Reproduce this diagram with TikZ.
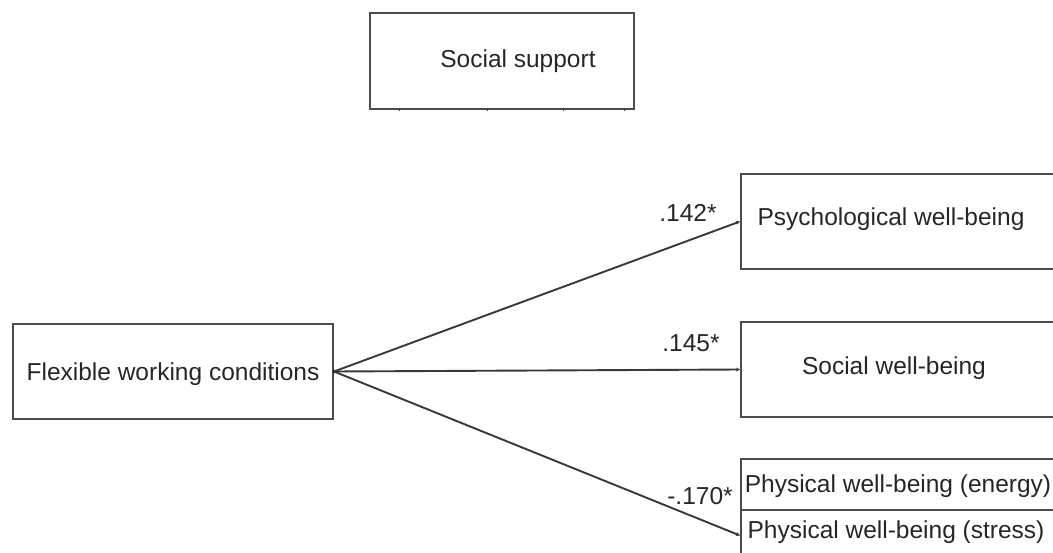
\documentclass[tikz,border=0pt]{standalone}
\usepackage{fontspec}
\setmainfont{Liberation Sans}
\usetikzlibrary{arrows.meta}

\begin{document}
\begin{tikzpicture}[x=1pt, y=-1pt,
  box/.style={draw=black!70, line width=2pt, inner sep=0pt,
    font=\fontsize{24.5}{28}\selectfont, text=black!85,
    text height=17.5pt, text depth=0pt},
  txt/.style={font=\fontsize{24.5}{28}\selectfont, text=black!85,
    inner sep=0pt, text height=17.5pt, text depth=0pt},
  link/.style={draw=black!78, line width=1.9pt, -{Stealth[length=4pt,width=4pt]}}]

% Frame
\clip (0,0) rectangle (1053,553);

% Boxes
\node[box, minimum width=264pt, minimum height=96pt, anchor=north west] (sup) at (369,12) {};
\node[box, minimum width=320pt, minimum height=95pt, anchor=north west] (flex) at (12,323) {Flexible working conditions};
\node[box, minimum width=330pt, minimum height=95pt, anchor=north west] (psy) at (740,173) {};
\node[box, minimum width=330pt, minimum height=95pt, anchor=north west] (soc) at (740,321) {};
\node[box, minimum width=330pt, minimum height=51pt, anchor=north west] (ene) at (740,458) {};
\node[box, minimum width=330pt, minimum height=51pt, anchor=north west] (str) at (740,509) {};

% Box texts
\node[txt] (suptxt) at (518,59) {Social support};
\node[txt] (psytxt) at (891,217) {Psychological well-being};
\node[txt] (soctxt) at (894,366) {Social well-being};
\node[txt] (enetxt) at (898,484) {Physical well-being (energy)};
\node[txt] (strtxt) at (896,530) {Physical well-being (stress)};

% Ticks under the top box
\foreach \tx in {399,487,563,624}
  \draw[black!75, line width=1pt] (\tx,108) -- (\tx,111);

% Paths
\fill[black!80] (flex.east) circle (2pt);
\draw[link] (flex.east) -- (psy.west);
\draw[link] (flex.east) -- (soc.west);
\draw[link] (flex.east) -- (str.west);

% Coefficients
\node[txt] (c1) at (688,213) {.142*};
\node[txt] (c2) at (691,343) {.145*};
\node[txt] (c3) at (700,496) {-.170*};

\end{tikzpicture}
\end{document}
